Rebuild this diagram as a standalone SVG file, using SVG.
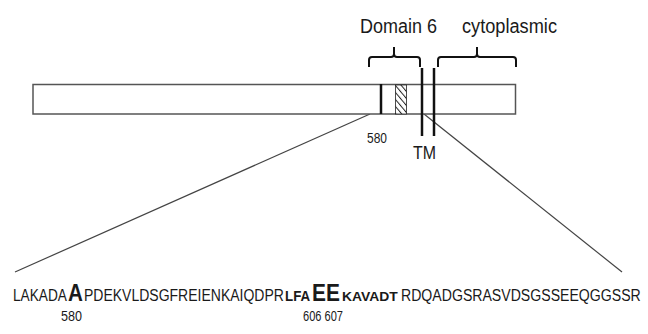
<svg xmlns="http://www.w3.org/2000/svg" width="648" height="334" viewBox="0 0 648 334">
<style>
text{font-family:"Liberation Sans",Arial,sans-serif;fill:#1a1a1a}
.brace{fill:none;stroke:#111;stroke-width:2;stroke-linejoin:round}
.bar{stroke:#111;stroke-width:2.5}
.conn{stroke:#444;stroke-width:1.2;fill:none}
.n{font-size:17px}
.b{font-weight:bold}
</style>
<defs>
<pattern id="hatch" patternUnits="userSpaceOnUse" width="4.5" height="4.5" patternTransform="rotate(-40)">
<rect width="4.5" height="4.5" fill="#fff"/>
<line x1="0" y1="0" x2="0" y2="4.5" stroke="#222" stroke-width="2"/>
</pattern>
</defs>
<rect width="648" height="334" fill="#fff"/>
<g id="connectors">
<line class="conn" x1="15" y1="272" x2="370" y2="114"/>
<line class="conn" x1="424" y1="114" x2="622" y2="272"/>
</g>
<g id="protein">
<rect x="33" y="84.5" width="482.5" height="29.5" fill="#fff" stroke="#555" stroke-width="1.5"/>
<line class="bar" x1="381" y1="84" x2="381" y2="114"/>
<rect x="395.5" y="85" width="11" height="29" fill="url(#hatch)" stroke="#222" stroke-width="0.8"/>
<text x="367" y="143" font-size="14" textLength="20" lengthAdjust="spacingAndGlyphs">580</text>
</g>
<g id="tm">
<line class="bar" x1="422" y1="68" x2="422" y2="136"/>
<line class="bar" x1="434" y1="68" x2="434" y2="136"/>
<text x="413" y="159" font-size="18" textLength="23" lengthAdjust="spacingAndGlyphs">TM</text>
</g>
<g id="domain6">
<path class="brace" d="M369,67 L369,60 Q369,57 372,57 L391,57 Q394,57 394,54 L394,47 M394,54 Q394,57 397,57 L417,57 Q420,57 420,60 L420,67"/>
<text x="360" y="33" font-size="19.5" textLength="77" lengthAdjust="spacingAndGlyphs">Domain 6</text>
</g>
<g id="cytoplasmic">
<path class="brace" d="M438,67 L438,60 Q438,57 441,57 L474,57 Q477,57 477,54 L477,47 M477,54 Q477,57 480,57 L513,57 Q516,57 516,60 L516,67"/>
<text x="462" y="33" font-size="19.5" textLength="95" lengthAdjust="spacingAndGlyphs">cytoplasmic</text>
</g>
<g id="sequence">
<text transform="translate(13,301) scale(0.805,1)" class="n">LAKADA</text>
<text transform="translate(68,301) scale(0.86,1)" font-size="24" class="b">A</text>
<text transform="translate(84,301) scale(0.824,1)" class="n">PDEKVLDSGFREIENKAIQDPR</text>
<text transform="translate(285,301) scale(0.92,1)" font-size="14.5" class="b">LFA</text>
<text transform="translate(312,301) scale(0.87,1)" font-size="24" class="b">EE</text>
<text transform="translate(342,301) scale(1.03,1)" font-size="13.5" class="b">KAVADT</text>
<text transform="translate(401,301) scale(0.83,1)" class="n">RDQADGSRASVDSGSSEEQGGSSR</text>
<text x="61" y="321" font-size="14" textLength="21" lengthAdjust="spacingAndGlyphs">580</text>
<text x="303" y="321" font-size="14" textLength="40" lengthAdjust="spacingAndGlyphs">606 607</text>
</g>
</svg>
